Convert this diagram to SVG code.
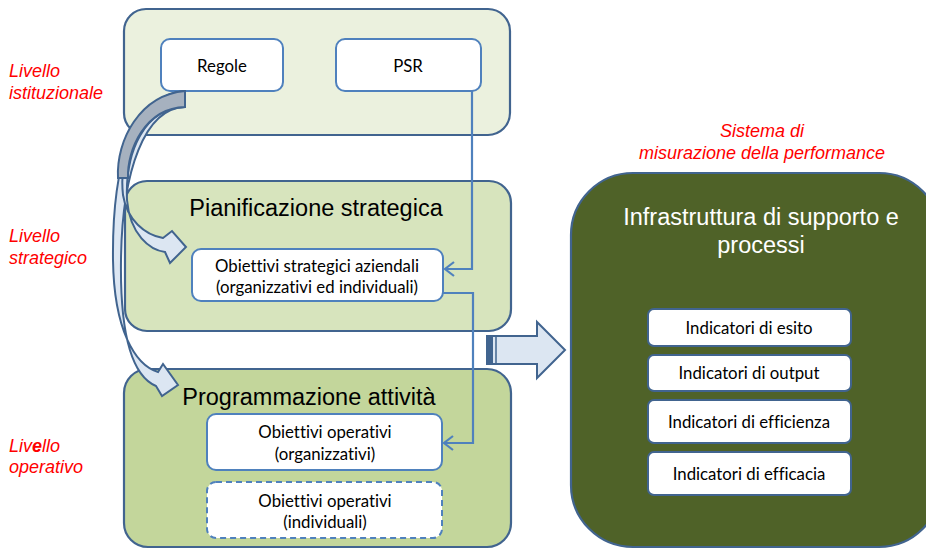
<svg xmlns="http://www.w3.org/2000/svg" width="926" height="550" viewBox="0 0 926 550">
<style>
.frame{stroke:#41648F;stroke-width:2.2}
.inner{fill:#fff;stroke:#4F81BD;stroke-width:2}
.ind{fill:#fff;stroke:#41648F;stroke-width:2}
.head{font-family:"Liberation Sans",Arial,sans-serif;font-size:23.5px;fill:#000;text-anchor:middle}
.t{font-family:Lato,"Open Sans",sans-serif;font-size:16.8px;fill:#000;text-anchor:middle;font-variant-ligatures:none;font-feature-settings:"liga" 0}
.red{font-family:"Liberation Sans",Arial,sans-serif;font-style:italic;font-size:18px;fill:#FF0000}
.conn{fill:none;stroke:#4F81BD;stroke-width:2.2}
.blk{fill:#DCE6F2;stroke:#41648F;stroke-width:2;stroke-linejoin:miter}
</style>

<g id="labels">
<text class="red" x="9" y="77">Livello</text>
<text class="red" x="9" y="99">istituzionale</text>
<text class="red" x="9" y="242">Livello</text>
<text class="red" x="9" y="264">strategico</text>
<text class="red" x="9" y="452">Liv<tspan font-weight="bold">e</tspan>llo</text>
<text class="red" x="9" y="473">operativo</text>
<text class="red" x="762" y="137" text-anchor="middle">Sistema di</text>
<text class="red" x="762" y="159" text-anchor="middle">misurazione della performance</text>
</g>

<g id="livello-istituzionale">
<rect class="frame" x="124" y="9" width="386" height="126" rx="22" fill="#EBF1DE"/>
</g>
<g id="regole">
<rect class="inner" x="161" y="39" width="122" height="52" rx="9"/>
<text class="t" x="222" y="72">Regole</text>
</g>
<g id="psr">
<rect class="inner" x="336" y="39" width="145" height="52" rx="9"/>
<text class="t" x="408" y="72">PSR</text>
</g>

<g id="pianificazione">
<rect class="frame" x="125" y="181" width="386" height="150" rx="22" fill="#D7E4BD"/>
<text class="head" x="316" y="216">Pianificazione strategica</text>
</g>
<g id="obiettivi-strategici">
<rect class="inner" x="192" y="249" width="251" height="52" rx="9"/>
<text class="t" x="317" y="272">Obiettivi strategici aziendali</text>
<text class="t" x="317" y="293">(organizzativi ed individuali)</text>
</g>

<g id="programmazione">
<rect class="frame" x="124" y="369" width="387" height="178" rx="24" fill="#C3D69B"/>
<text class="head" x="309" y="405">Programmazione attività</text>
</g>
<g id="obiettivi-operativi-org">
<rect class="inner" x="207" y="414" width="235" height="56" rx="9"/>
<text class="t" x="325" y="438">Obiettivi operativi</text>
<text class="t" x="325" y="460">(organizzativi)</text>
</g>
<g id="obiettivi-operativi-ind">
<rect class="inner" x="207" y="482" width="235" height="56" rx="9" stroke-dasharray="6,4"/>
<text class="t" x="325" y="507">Obiettivi operativi</text>
<text class="t" x="325" y="528">(individuali)</text>
</g>

<g id="sistema">
<rect class="frame" x="571" y="173" width="370" height="374" rx="62" fill="#4F6228"/>
<text class="head" x="761" y="225" style="fill:#fff">Infrastruttura di supporto e</text>
<text class="head" x="761" y="253" style="fill:#fff">processi</text>
</g>
<g id="ind-esito">
<rect class="ind" x="648" y="309" width="203" height="37" rx="6"/>
<text class="t" x="749" y="334">Indicatori di esito</text>
</g>
<g id="ind-output">
<rect class="ind" x="648" y="355" width="203" height="36" rx="6"/>
<text class="t" x="749" y="379">Indicatori di output</text>
</g>
<g id="ind-efficienza">
<rect class="ind" x="648" y="400" width="203" height="43" rx="6"/>
<text class="t" x="749" y="428">Indicatori di efficienza</text>
</g>
<g id="ind-efficacia">
<rect class="ind" x="648" y="452" width="203" height="43" rx="6"/>
<text class="t" x="749" y="480">Indicatori di efficacia</text>
</g>

<g id="connectors">
<path class="conn" d="M472,91 L472,269 L445,269"/>
<path class="conn" d="M454,262 L445,269 L454,276"/>
<path class="conn" d="M443,293 L473,293 L473,443 L444,443"/>
<path class="conn" d="M453,436 L444,443 L453,450"/>
<path class="blk" d="M487,336 L537,336 L537,322 L565,350 L537,378 L537,364 L487,364 Z"/>
<rect x="487" y="336" width="6" height="28" fill="#41648F"/>
<line x1="496" y1="336" x2="496" y2="364" stroke="#41648F" stroke-width="1.5"/>
<path class="blk" d="M185,91 C130,95 112,170 113,260 C114,330 135,365 158,372 L163,364 L178,385 L162,396 L156,386 C130,375 120,330 121,260 C122,170 145,108 185,107 Z"/>
<path class="blk" d="M185,91 C140,95 118,150 123,195 C127,220 145,235 163,238 L172,231 L186,247 L170,263 L165,252 C150,250 130,235 127,200 C125,150 145,108 185,107 Z"/>
<path d="M185,91 C140,95 116,140 118,178 L128,178 C127,150 145,108 185,107 Z" fill="#A6B1BF" stroke="#41648F" stroke-width="2"/>
</g>
</svg>
